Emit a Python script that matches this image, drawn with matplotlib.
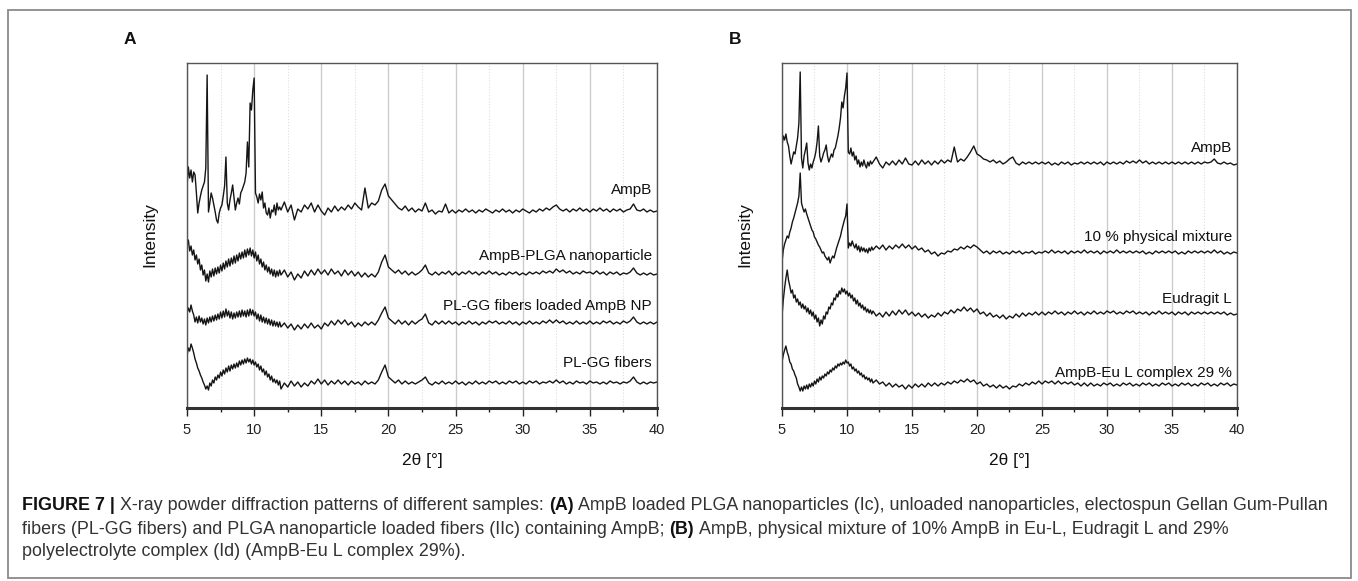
import numpy as np
import matplotlib
matplotlib.use('Agg')
import matplotlib.pyplot as plt
from matplotlib.patches import Rectangle
from matplotlib.ticker import MultipleLocator

plt.rcParams['font.family'] = ['Liberation Sans', 'DejaVu Sans']

W, H = 1358, 581

# stacked intensity (a.u.)
# "fine" part: 2theta 5.0 .. 11.9 step 0.1, "tail" part: 12.0 .. 40.0 step 0.25

a_ampb_fine = [
    221, 241, 230, 238, 226, 236, 233, 215, 195, 205,
    212, 218, 222, 226, 240, 333, 196, 205, 215, 210,
    203, 196, 188, 185, 195, 200, 203, 212, 222, 251,
    205, 198, 208, 215, 223, 210, 198, 205, 210, 204,
    215, 218, 222, 226, 235, 266, 241, 305, 298, 318,
    330, 215, 211, 205, 214, 208, 216, 200, 205, 195,
    193, 200, 190, 198, 196, 203, 193, 205, 198, 201]
a_ampb_tail = [
    198, 206, 196, 203, 188, 199, 196, 203, 199, 205, 196, 203,
    197, 193, 200, 196, 202, 197, 201, 198, 203, 199, 205, 201,
    198, 220, 200, 205, 203, 207, 218, 224, 212, 208, 204, 200,
    198, 202, 197, 200, 196, 199, 197, 205, 196, 198, 194, 197,
    196, 204, 195, 198, 195, 198, 196, 199, 196, 198, 195, 198,
    196, 199, 197, 195, 198, 196, 199, 196, 198, 195, 198, 196,
    199, 197, 195, 198, 196, 199, 197, 200, 198, 201, 203, 199,
    197, 199, 196, 199, 197, 200, 197, 199, 196, 199, 197, 200,
    197, 199, 196, 199, 197, 199, 196, 198, 199, 204, 198, 197,
    199, 196, 198, 196, 197]

a_plga_fine = [
    163, 168, 157, 162, 153, 158, 148, 153, 144, 149,
    138, 143, 133, 138, 127, 134, 126, 137, 131, 139,
    132, 140, 134, 141, 135, 143, 137, 145, 139, 147,
    141, 149, 142, 150, 144, 152, 145, 153, 147, 155,
    149, 156, 150, 158, 151, 159, 153, 160, 152, 158,
    150, 156, 147, 153, 144, 149, 141, 146, 138, 143,
    136, 141, 134, 139, 132, 138, 131, 137, 132, 138]
a_plga_tail = [
    133, 138, 131, 136, 128, 134, 130, 137, 132, 138, 133, 139,
    134, 138, 133, 139, 134, 137, 132, 138, 133, 137, 132, 136,
    131, 135, 131, 134, 131, 136, 146, 153, 141, 138, 135, 138,
    134, 137, 133, 136, 133, 135, 138, 143, 135, 133, 136, 133,
    136, 134, 137, 133, 136, 133, 136, 134, 137, 134, 136, 133,
    136, 134, 137, 134, 136, 133, 135, 133, 136, 134, 136, 133,
    135, 133, 136, 134, 136, 134, 137, 135, 137, 135, 139, 136,
    138, 135, 137, 134, 136, 134, 137, 135, 136, 134, 137, 134,
    136, 133, 136, 134, 136, 133, 135, 134, 136, 140, 135, 133,
    135, 133, 135, 133, 134]

a_loaded_fine = [
    95, 100, 96, 103, 97, 93, 86, 91, 85, 92,
    86, 90, 84, 89, 83, 90, 85, 91, 86, 92,
    87, 93, 88, 94, 89, 96, 90, 97, 91, 99,
    92, 97, 90, 96, 89, 95, 90, 96, 91, 97,
    91, 98, 92, 97, 91, 98, 92, 99, 93, 98,
    92, 96, 89, 94, 87, 93, 86, 91, 85, 90,
    84, 89, 83, 88, 82, 87, 82, 86, 81, 86]
a_loaded_tail = [
    81, 85, 80, 84, 78, 83, 79, 84, 80, 85, 80, 83,
    79, 85, 82, 87, 83, 88, 84, 88, 83, 86, 81, 85,
    82, 86, 83, 86, 83, 88, 95, 101, 90, 87, 84, 88,
    84, 87, 83, 87, 84, 87, 89, 94, 85, 83, 87, 84,
    87, 84, 87, 84, 86, 83, 86, 84, 87, 84, 86, 83,
    86, 84, 87, 85, 87, 84, 86, 84, 87, 84, 86, 83,
    86, 84, 87, 84, 86, 84, 87, 85, 88, 85, 88, 85,
    87, 84, 86, 84, 87, 84, 86, 84, 87, 84, 86, 84,
    87, 85, 87, 84, 86, 84, 87, 85, 87, 91, 86, 84,
    86, 84, 86, 84, 86]

a_plgg_fine = [
    52, 60, 57, 64, 60, 55, 49, 45, 40, 37,
    33, 30, 26, 23, 19, 22, 18, 25, 22, 28,
    25, 31, 28, 33, 30, 36, 32, 38, 34, 40,
    36, 42, 37, 43, 39, 44, 40, 45, 41, 47,
    43, 48, 44, 49, 45, 50, 46, 49, 44, 48,
    43, 46, 41, 44, 38, 42, 36, 39, 33, 37,
    31, 34, 28, 32, 26, 29, 25, 28, 23, 27]
a_plgg_tail = [
    19, 25, 21, 27, 22, 26, 21, 25, 22, 27, 24, 29,
    24, 28, 23, 27, 24, 28, 24, 27, 23, 27, 24, 26,
    23, 27, 24, 26, 24, 28, 36, 43, 31, 28, 25, 28,
    24, 27, 24, 26, 24, 26, 28, 31, 25, 23, 26, 24,
    27, 24, 26, 24, 27, 24, 26, 23, 26, 24, 27, 24,
    26, 24, 27, 25, 27, 24, 26, 24, 27, 25, 27, 24,
    26, 24, 27, 25, 27, 24, 26, 25, 27, 25, 28, 25,
    27, 24, 26, 24, 27, 25, 26, 24, 27, 25, 26, 24,
    26, 24, 27, 25, 26, 24, 26, 25, 27, 31, 26, 24,
    26, 24, 26, 25, 26]

b_ampb_fine = [
    262, 272, 268, 274, 266, 262, 252, 244, 250, 256,
    254, 262, 270, 285, 336, 250, 240, 252, 258, 265,
    245, 238, 244, 240, 246, 250, 256, 266, 282, 252,
    246, 250, 255, 258, 263, 252, 246, 250, 254, 251,
    258, 260, 266, 272, 280, 290, 306, 300, 312, 320,
    335, 256, 254, 260, 252, 256, 248, 252, 244, 248,
    241, 246, 242, 248, 243, 240, 246, 242, 247, 244]
b_ampb_tail = [
    246, 251, 244, 240, 246, 243, 247, 243, 248, 244, 250, 244,
    243, 247, 243, 248, 244, 247, 243, 247, 244, 248, 245, 248,
    246, 261, 246, 249, 247, 251, 256, 262, 254, 252, 249, 248,
    246, 248, 245, 247, 244, 246, 249, 251, 245, 243, 246, 244,
    246, 244, 246, 244, 246, 244, 246, 243, 245, 243, 246, 244,
    246, 243, 245, 244, 246, 244, 246, 244, 246, 244, 246, 243,
    246, 244, 246, 244, 246, 244, 247, 245, 247, 245, 248, 245,
    247, 244, 246, 244, 246, 244, 246, 244, 246, 244, 246, 244,
    246, 244, 246, 244, 246, 244, 246, 245, 246, 249, 245, 244,
    246, 244, 245, 243, 244]

b_mix_fine = [
    146, 158, 164, 168, 172, 170, 176, 180, 186, 190,
    195, 200, 205, 212, 235, 205, 200, 196, 199, 194,
    190, 186, 182, 178, 176, 171, 169, 166, 163, 161,
    158, 155, 156, 152, 150, 148, 151, 145, 149, 152,
    150, 155, 160, 164, 168, 172, 178, 183, 188, 192,
    204, 160, 165, 162, 167, 163, 160, 164, 158, 162,
    156, 161, 157, 160, 156, 159, 155, 160, 157, 161]
b_mix_tail = [
    158, 162, 159, 163, 158, 162, 159, 163, 160, 164, 160, 163,
    159, 162, 158, 160, 156, 158, 154, 156, 152, 155, 154, 157,
    156, 159, 158, 161, 159, 162, 160, 163, 161, 158, 155, 157,
    154, 157, 155, 157, 154, 156, 154, 157, 155, 157, 154, 156,
    155, 157, 154, 156, 155, 157, 155, 158, 155, 157, 155, 157,
    154, 157, 155, 157, 155, 158, 155, 157, 155, 157, 154, 157,
    155, 157, 155, 158, 155, 157, 155, 157, 155, 157, 155, 157,
    154, 156, 154, 157, 155, 157, 155, 157, 155, 157, 154, 156,
    154, 157, 155, 157, 155, 157, 155, 157, 155, 158, 155, 157,
    154, 156, 154, 156, 155]

b_eud_fine = [
    92, 108, 120, 130, 138, 128, 122, 115, 118, 110,
    113, 106, 109, 103, 106, 100, 104, 99, 102, 96,
    100, 94, 98, 92, 96, 89, 93, 86, 90, 82,
    88, 84, 92, 89, 96, 94, 101, 99, 105, 103,
    110, 108, 114, 111, 117, 114, 120, 116, 119, 114,
    117, 112, 115, 110, 113, 107, 110, 104, 108, 102,
    105, 100, 103, 98, 101, 96, 99, 95, 98, 94]
b_eud_tail = [
    97, 92, 95, 91, 96, 92, 97, 93, 98, 94, 98, 93,
    96, 92, 95, 91, 94, 90, 93, 91, 95, 92, 96, 94,
    98, 95, 99, 97, 101, 97, 100, 96, 99, 94, 96, 92,
    95, 91, 93, 90, 93, 89, 92, 90, 94, 91, 95, 92,
    95, 93, 96, 93, 96, 93, 96, 94, 97, 94, 96, 93,
    96, 94, 97, 94, 96, 93, 96, 94, 97, 94, 96, 94,
    97, 95, 97, 94, 96, 94, 97, 95, 97, 94, 96, 94,
    96, 93, 96, 94, 97, 94, 96, 94, 96, 93, 96, 94,
    96, 93, 96, 94, 96, 94, 96, 94, 96, 94, 96, 94,
    96, 93, 95, 93, 94]

b_cplx_fine = [
    46, 53, 58, 62, 56, 52, 46, 44, 39, 37,
    33, 30, 24, 21, 17, 21, 17, 22, 19, 23,
    19, 24, 21, 25, 22, 27, 24, 29, 26, 31,
    28, 32, 30, 34, 32, 36, 34, 38, 36, 40,
    38, 42, 40, 44, 42, 45, 43, 46, 44, 48,
    45, 46, 42, 44, 39, 41, 37, 39, 35, 37,
    33, 35, 31, 33, 29, 31, 28, 30, 26, 29]
b_cplx_tail = [
    25, 28, 24, 26, 22, 25, 21, 24, 21, 23, 19, 23,
    20, 24, 21, 24, 21, 25, 22, 25, 22, 25, 23, 26,
    24, 27, 25, 28, 26, 29, 26, 28, 24, 26, 22, 24,
    21, 23, 20, 23, 20, 22, 19, 22, 21, 24, 22, 25,
    23, 26, 24, 27, 24, 27, 25, 27, 24, 27, 24, 26,
    24, 26, 23, 25, 22, 25, 22, 25, 22, 24, 22, 25,
    23, 25, 22, 24, 22, 25, 23, 25, 22, 24, 22, 25,
    23, 25, 22, 24, 22, 25, 23, 25, 22, 24, 22, 25,
    23, 25, 22, 24, 22, 25, 23, 25, 22, 24, 22, 25,
    23, 25, 22, 24, 23]

labels_a = ['AmpB', 'AmpB-PLGA nanoparticle', 'PL-GG fibers loaded AmpB NP', 'PL-GG fibers']
labels_b = ['AmpB', '10 % physical mixture', 'Eudragit L', 'AmpB-Eu L complex 29 %']
label_y_a = [218, 152, 102, 45]
label_y_b = [260, 171, 109, 35]

traces_a = [(a_ampb_fine, a_ampb_tail), (a_plga_fine, a_plga_tail),
            (a_loaded_fine, a_loaded_tail), (a_plgg_fine, a_plgg_tail)]
traces_b = [(b_ampb_fine, b_ampb_tail), (b_mix_fine, b_mix_tail),
            (b_eud_fine, b_eud_tail), (b_cplx_fine, b_cplx_tail)]

fig = plt.figure(figsize=(W / 100, H / 100), dpi=100)
fig.patches.append(Rectangle((8 / W, 1 - 578 / H), 1343 / W, 568 / H, transform=fig.transFigure,
                             fill=False, edgecolor='#8a8a8a', lw=1.3))


def panel(left_px, right_px, traces, labels, label_y, letter, letter_x):
    ax = fig.add_axes([left_px / W, 1 - 408 / H, (right_px - left_px) / W, 345 / H])
    for fine, tail in traces:
        x = np.concatenate([np.linspace(5.0, 11.9, len(fine)), np.linspace(12, 40, len(tail))])
        ax.plot(x, list(fine) + list(tail), color='#151515', lw=1.0)
    ax.set_xlim(5, 40)
    ax.set_ylim(0, 345)
    ax.set_yticks([])
    ax.xaxis.set_major_locator(MultipleLocator(5))
    ax.xaxis.set_minor_locator(MultipleLocator(2.5))
    ax.tick_params(axis='x', which='major', length=6, width=1, labelsize=10.5, pad=5, colors='#222')
    ax.tick_params(axis='x', which='minor', length=3, width=1, colors='#222')
    ax.grid(True, axis='x', which='major', color='#cccccc', lw=1)
    ax.grid(True, axis='x', which='minor', color='#dddddd', lw=0.8, ls=':')
    ax.set_axisbelow(True)
    for s in ['top', 'left', 'right']:
        ax.spines[s].set_color('#555555')
        ax.spines[s].set_linewidth(1)
    ax.spines['bottom'].set_color('#333333')
    ax.spines['bottom'].set_linewidth(2.2)
    for lab, yv in zip(labels, label_y):
        ax.text(0.989, yv, lab, transform=ax.get_yaxis_transform(), ha='right', va='center',
                fontsize=11, color='#111')
    cx = (left_px + right_px) / 2
    fig.text(cx / W, 1 - 460 / H, '2θ [°]', ha='center', va='center', fontsize=12.5, color='#111')
    fig.text((left_px - 37) / W, 1 - 235 / H, 'Intensity', rotation=90, ha='center', va='center',
             fontsize=12.5, color='#111')
    fig.text(letter_x / W, 1 - 40 / H, letter, ha='center', va='center', fontsize=12.5,
             fontweight='bold', color='#111')
    return ax


panel(187, 657, traces_a, labels_a, label_y_a, 'A', 130)
panel(782, 1237, traces_b, labels_b, label_y_b, 'B', 735)

# caption with bold pieces
caption = [
    [('FIGURE 7 |', True), (' X-ray powder diffraction patterns of different samples: ', False), ('(A)', True),
     (' AmpB loaded PLGA nanoparticles (Ic), unloaded nanoparticles, electospun Gellan Gum-Pullan', False)],
    [('fibers (PL-GG fibers) and PLGA nanoparticle loaded fibers (IIc) containing AmpB; ', False), ('(B)', True),
     (' AmpB, physical mixture of 10% AmpB in Eu-L, Eudragit L and 29%', False)],
    [('polyelectrolyte complex (Id) (AmpB-Eu L complex 29%).', False)],
]
cap_y = [506, 529, 551]

r = fig.canvas.get_renderer()


def width_px(txt, size, bold):
    t = fig.text(0, 0, txt, fontsize=size, fontweight='bold' if bold else 'normal')
    w = t.get_window_extent(renderer=r).width
    t.remove()
    return w


def line_width(parts, size):
    sp = width_px('a a', size, False) - width_px('aa', size, False)
    tot = 0
    for txt, b in parts:
        n_lead = len(txt) - len(txt.lstrip(' '))
        n_trail = len(txt) - len(txt.rstrip(' '))
        tot += (n_lead + n_trail) * sp + width_px(txt.strip(), size, b)
    return tot, sp


w10, _ = line_width(caption[0], 10)
cap_size = 10 * (1333 - 22) / w10

for parts, yc in zip(caption, cap_y):
    _, sp = line_width(parts, cap_size)
    x = 22
    for txt, b in parts:
        n_lead = len(txt) - len(txt.lstrip(' '))
        n_trail = len(txt) - len(txt.rstrip(' '))
        x += n_lead * sp
        t = fig.text(x / W, 1 - yc / H, txt.strip(), fontsize=cap_size, va='center', ha='left',
                     fontweight='bold' if b else 'normal', color='#111' if b else '#333')
        x += t.get_window_extent(renderer=r).width + n_trail * sp

fig.savefig('out.png', dpi=100)
